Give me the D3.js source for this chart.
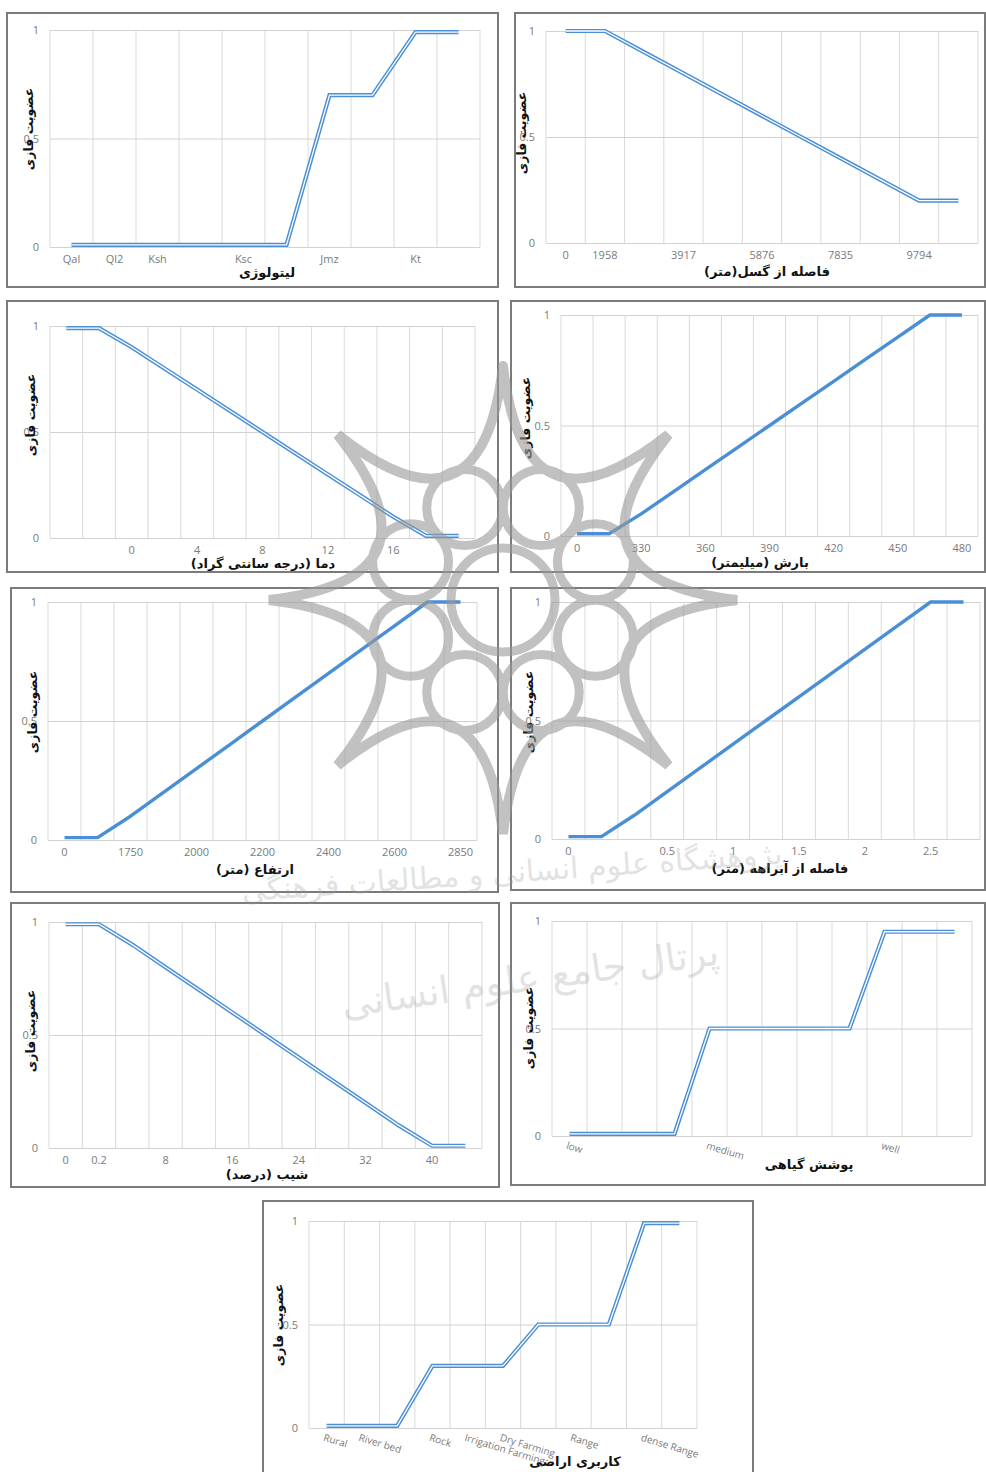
<!DOCTYPE html>
<html>
<head>
<meta charset="utf-8">
<script src="https://cdn.jsdelivr.net/npm/d3@7"></script>
<style>
  body { margin: 0; background: #fff; }
  svg { display: block; }
  .tick text { font-family: "Open Sans", "Liberation Sans", sans-serif; fill: #7a7a7a; }
  .fa { font-family: "DejaVu Sans", sans-serif; font-weight: bold; fill: #111; direction: rtl; }
</style>
</head>
<body>
<script>
// Membership axis (shared by every panel)
const yTicks = [0, 0.5, 1];
const yTickLabels = ["0", "0.5", "1"];
const memberTitle = "عضویت فازی";

// Lithology
const lithoCats = ["Qal", "Ql2", "Ksh", "", "Ksc", "", "Jmz", "", "Kt", ""];
const lithoVals = [0.01, 0.01, 0.01, 0.01, 0.01, 0.01, 0.7, 0.7, 0.99, 0.99];

// Distance from fault (m)
const faultCats = ["0", "1958", "", "3917", "", "5876", "", "7835", "", "9794", ""];
const faultVals = [1, 1, 0.9, 0.8, 0.7, 0.6, 0.5, 0.4, 0.3, 0.2, 0.2];

// Temperature (°C)
const tempCats = ["", "", "0", "", "4", "", "8", "", "12", "", "16", "", ""];
const tempVals = [0.99, 0.99, 0.9, 0.8, 0.7, 0.6, 0.5, 0.4, 0.3, 0.2, 0.1, 0.01, 0.01];

// Precipitation (mm)
const rainCats = ["0", "", "330", "", "360", "", "390", "", "420", "", "450", "", "480"];
const rainVals = [0.01, 0.01, 0.1, 0.2, 0.3, 0.4, 0.5, 0.6, 0.7, 0.8, 0.9, 1, 1];

// Elevation (m)
const elevCats = ["0", "", "1750", "", "2000", "", "2200", "", "2400", "", "2600", "", "2850"];
const elevVals = [0.01, 0.01, 0.1, 0.2, 0.3, 0.4, 0.5, 0.6, 0.7, 0.8, 0.9, 1, 1];

// Distance from drainage (m)
const drainCats = ["0", "", "", "0.5", "", "1", "", "1.5", "", "2", "", "2.5", ""];
const drainVals = [0.01, 0.01, 0.1, 0.2, 0.3, 0.4, 0.5, 0.6, 0.7, 0.8, 0.9, 1, 1];

// Slope (%)
const slopeCats = ["0", "0.2", "", "8", "", "16", "", "24", "", "32", "", "40", ""];
const slopeVals = [0.99, 0.99, 0.9, 0.8, 0.7, 0.6, 0.5, 0.4, 0.3, 0.2, 0.1, 0.01, 0.01];

// Vegetation cover
const vegCats = ["low", "", "", "", "medium", "", "", "", "", "well", "", ""];
const vegVals = [0.01, 0.01, 0.01, 0.01, 0.5, 0.5, 0.5, 0.5, 0.5, 0.95, 0.95, 0.95];

// Land use
const landCats = ["Rural", "River bed", "", "Rock", "Irrigation Farming", "Dry Farming", "", "Range", "", "dense Range", ""];
const landVals = [0.01, 0.01, 0.01, 0.3, 0.3, 0.3, 0.5, 0.5, 0.5, 0.99, 0.99];

// Panel layout: outer frame, plot area, title anchors and line style
const panels = [
  { cats: lithoCats, vals: lithoVals, title: "لیتولوژی", line: "double",
    box: [7, 13, 498, 287], plot: [50, 30, 480, 247], yT: [28, 129], xT: [267, 272] },
  { cats: faultCats, vals: faultVals, title: "فاصله از گسل(متر)", line: "double",
    box: [515, 13, 985, 287], plot: [546, 31, 978, 243], yT: [521, 133], xT: [767, 271] },
  { cats: tempCats, vals: tempVals, title: "دما (درجه سانتی گراد)", line: "double",
    box: [7, 301, 498, 572], plot: [50, 326, 475, 538], yT: [30, 415], xT: [263, 563] },
  { cats: rainCats, vals: rainVals, title: "بارش (میلیمتر)", line: "solid",
    box: [511, 301, 985, 572], plot: [561, 315, 978, 536], yT: [525, 418], xT: [760, 562] },
  { cats: elevCats, vals: elevVals, title: "ارتفاع (متر)", line: "solid",
    box: [11, 588, 498, 892], plot: [48, 602, 477, 840], yT: [32, 712], xT: [255, 869] },
  { cats: drainCats, vals: drainVals, title: "فاصله از آبراهه (متر)", line: "solid",
    box: [511, 588, 985, 890], plot: [552, 602, 980, 839], yT: [528, 712], xT: [780, 868] },
  { cats: slopeCats, vals: slopeVals, title: "شیب (درصد)", line: "double",
    box: [11, 903, 499, 1187], plot: [49, 922, 482, 1148], yT: [30, 1031], xT: [267, 1174] },
  { cats: vegCats, vals: vegVals, title: "پوشش گیاهی", line: "double", rotate: true,
    box: [511, 903, 985, 1185], plot: [552, 921, 972, 1136], yT: [528, 1028], xT: [809, 1164] },
  { cats: landCats, vals: landVals, title: "کاربری اراضی", line: "double", rotate: true,
    box: [263, 1201, 753, 1480], plot: [309, 1221, 697, 1428], yT: [278, 1325], xT: [575, 1461] }
];

const BLUE = "#4a8fd6";

const svg = d3.select("body").append("svg")
  .attr("width", 986).attr("height", 1472);

panels.forEach(p => {
  const g = svg.append("g");
  const [bx0, by0, bx1, by1] = p.box;
  const [px0, py0, px1, py1] = p.plot;

  g.append("rect")
    .attr("x", bx0).attr("y", by0)
    .attr("width", bx1 - bx0).attr("height", by1 - by0)
    .attr("fill", "#fff").attr("stroke", "#7b7b7b").attr("stroke-width", 2);

  const x = d3.scaleBand().domain(d3.range(p.cats.length)).range([px0, px1]);
  const y = d3.scaleLinear().domain([0, 1]).range([py1, py0]);

  // vertical gridlines between categories
  const edges = x.domain().map(i => x(i)).concat([px1]);
  g.append("g").selectAll("line").data(edges).join("line")
    .attr("x1", d => d).attr("x2", d => d)
    .attr("y1", py0).attr("y2", py1)
    .attr("stroke", "#d9d9d9").attr("stroke-width", 1);

  // value axis with horizontal gridlines
  const ya = g.append("g")
    .attr("transform", `translate(${px0},0)`)
    .call(d3.axisLeft(y).tickValues(yTicks)
      .tickFormat((d, i) => yTickLabels[i])
      .tickSize(-(px1 - px0)).tickPadding(11));
  ya.select(".domain").remove();
  ya.selectAll(".tick line").attr("stroke", "#d2d2d2");
  ya.selectAll(".tick text").attr("font-size", 11);

  // category axis labels
  const xa = g.append("g")
    .attr("transform", `translate(0,${py1})`)
    .call(d3.axisBottom(x).tickFormat(i => p.cats[i]).tickSize(0).tickPadding(8));
  xa.select(".domain").remove();
  if (p.rotate) {
    xa.selectAll(".tick text")
      .attr("font-size", 10)
      .attr("text-anchor", "start")
      .attr("dy", "0.5em")
      .attr("transform", "rotate(17)");
  } else {
    xa.selectAll(".tick text").attr("font-size", 11);
  }

  // membership curve
  const line = d3.line()
    .x((d, i) => x(i) + x.bandwidth() / 2)
    .y(d => y(d));
  if (p.line === "double") {
    g.append("path").datum(p.vals).attr("d", line)
      .attr("fill", "none").attr("stroke", BLUE).attr("stroke-width", 4.2)
      .attr("stroke-linejoin", "miter");
    g.append("path").datum(p.vals).attr("d", line)
      .attr("fill", "none").attr("stroke", "#fff").attr("stroke-width", 1.3);
  } else {
    g.append("path").datum(p.vals).attr("d", line)
      .attr("fill", "none").attr("stroke", BLUE).attr("stroke-width", 3.4)
      .attr("stroke-linejoin", "round");
  }

  // axis titles
  g.append("text").attr("class", "fa")
    .attr("transform", `translate(${p.yT[0]},${p.yT[1]}) rotate(-90)`)
    .attr("text-anchor", "middle").attr("dominant-baseline", "central")
    .attr("font-size", 12.5)
    .text(memberTitle);
  g.append("text").attr("class", "fa")
    .attr("x", p.xT[0]).attr("y", p.xT[1])
    .attr("text-anchor", "middle").attr("dominant-baseline", "central")
    .attr("font-size", 13)
    .text(p.title);
});

// Publisher emblem printed across the middle of the page
const mark = svg.append("g")
  .attr("transform", "translate(503,600)")
  .attr("fill", "none").attr("stroke", "#999")
  .attr("opacity", 0.6).attr("stroke-linecap", "round");

const spikes = d3.range(8).map(i => -Math.PI / 2 + i * Math.PI / 4);
const tipR = 234, ctrlR = 55;
const starPath = d3.path();
spikes.forEach((a, i) => {
  const b = a + Math.PI / 4;
  const m = a + Math.PI / 8;
  if (i === 0) starPath.moveTo(tipR * Math.cos(a), tipR * Math.sin(a));
  starPath.quadraticCurveTo(ctrlR * Math.cos(m), ctrlR * Math.sin(m), tipR * Math.cos(b), tipR * Math.sin(b));
});
mark.append("path").attr("d", starPath.toString()).attr("stroke-width", 10);

mark.selectAll("circle.ring").data(spikes).join("circle")
  .attr("class", "ring")
  .attr("cx", a => 100 * Math.cos(a + Math.PI / 8))
  .attr("cy", a => 100 * Math.sin(a + Math.PI / 8))
  .attr("r", 38).attr("stroke-width", 9);
mark.append("circle").attr("r", 52).attr("stroke-width", 9);

svg.append("text")
  .attr("transform", "translate(512,872) rotate(-4)")
  .attr("text-anchor", "middle").attr("dominant-baseline", "central")
  .style("direction", "rtl")
  .attr("font-family", "DejaVu Sans, sans-serif").attr("font-size", 30)
  .attr("fill", "#9a9a9a").attr("opacity", 0.28)
  .text("پژوهشگاه علوم انسانی و مطالعات فرهنگی");
svg.append("text")
  .attr("transform", "translate(530,978) rotate(-8)")
  .attr("text-anchor", "middle").attr("dominant-baseline", "central")
  .style("direction", "rtl")
  .attr("font-family", "DejaVu Sans, sans-serif").attr("font-size", 38)
  .attr("fill", "#9a9a9a").attr("opacity", 0.28)
  .text("پرتال جامع علوم انسانی");
</script>
</body>
</html>
